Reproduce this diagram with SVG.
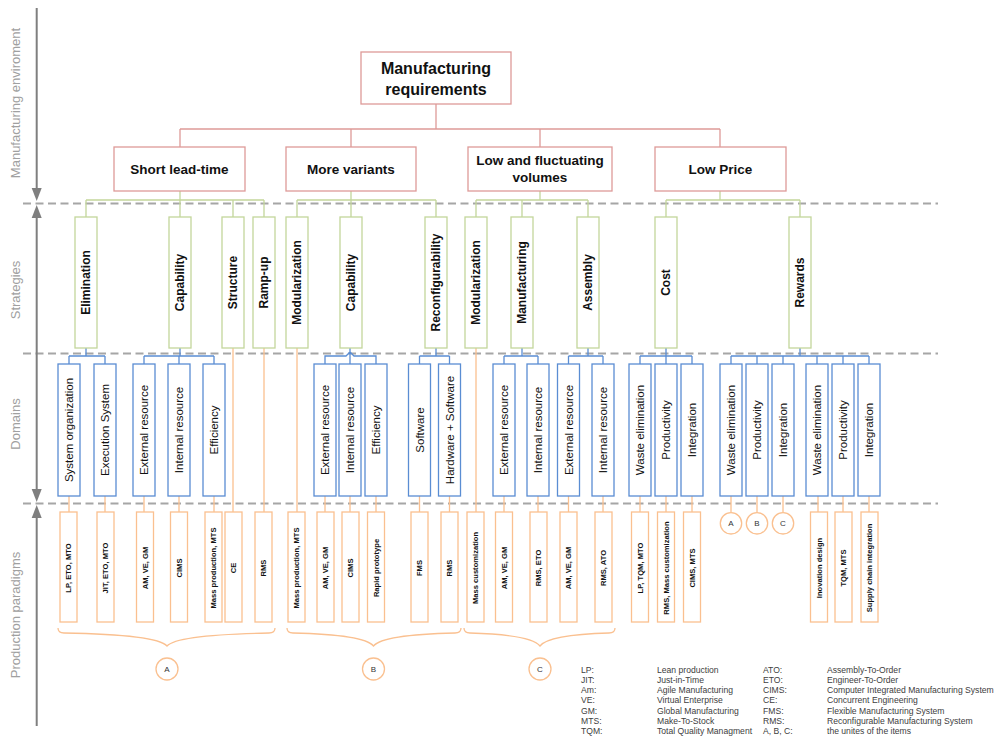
<svg xmlns="http://www.w3.org/2000/svg" width="995" height="741" viewBox="0 0 995 741">
  <style>
    text { font-family: "Liberation Sans", Arial, sans-serif; }
    .req rect { fill: #fff; stroke: #de9a98; stroke-width: 1.3; }
    .req text { font-size: 13.5px; font-weight: bold; fill: #111; text-anchor: middle; }
    .top text { font-size: 16px; }
    .str rect { fill: #fff; stroke: #c3d69b; stroke-width: 1.3; }
    .str text { font-size: 12px; font-weight: bold; fill: #111; text-anchor: middle; dominant-baseline: central; }
    .dom rect { fill: #fff; stroke: #5a8dd3; stroke-width: 1.3; }
    .dom text { font-size: 11.5px; fill: #111; text-anchor: middle; dominant-baseline: central; }
    .par rect { fill: #fff; stroke: #fac090; stroke-width: 1.3; }
    .par text { font-size: 7.6px; font-weight: bold; fill: #111; text-anchor: middle; dominant-baseline: central; }
    .unit circle { fill: #fff; stroke: #fac090; stroke-width: 1.3; }
    .unit text { font-size: 8px; fill: #333; text-anchor: middle; dominant-baseline: central; }
    .c-red { fill: none; stroke: #de9a98; stroke-width: 1.3; }
    .c-green { fill: none; stroke: #c3d69b; stroke-width: 1.3; }
    .c-blue { fill: none; stroke: #5a8dd3; stroke-width: 1.3; }
    .c-orange { fill: none; stroke: #fac090; stroke-width: 1.3; }
    .brace { fill: none; stroke: #fac090; stroke-width: 1.3; }
    .sep { stroke: #a6a6a6; stroke-width: 1.8; stroke-dasharray: 8 4.5; }
    .axis { stroke: #7f7f7f; stroke-width: 2; }
    .axhead { fill: #7f7f7f; }
    .side { font-size: 13px; fill: #a0a0a0; text-anchor: middle; dominant-baseline: central; }
    .legend text { font-size: 8.6px; fill: #404040; }
  </style>

  <!-- layer separators -->
  <g id="separators">
    <line class="sep" x1="23" y1="203.5" x2="938" y2="203.5"/>
    <line class="sep" x1="23" y1="353.5" x2="938" y2="353.5"/>
    <line class="sep" x1="23" y1="503.5" x2="938" y2="503.5"/>
  </g>

  <!-- left axis with layer arrows -->
  <g id="axis">
    <line class="axis" x1="36.7" y1="8" x2="36.7" y2="190"/>
    <polygon class="axhead" points="31.7,188 41.7,188 36.7,201"/>
    <line class="axis" x1="36.7" y1="216" x2="36.7" y2="490"/>
    <polygon class="axhead" points="31.7,218 41.7,218 36.7,205"/>
    <polygon class="axhead" points="31.7,489 41.7,489 36.7,502"/>
    <line class="axis" x1="36.7" y1="516" x2="36.7" y2="726"/>
    <polygon class="axhead" points="31.7,518 41.7,518 36.7,505"/>
  </g>

  <g id="layer-labels">
    <text class="side" transform="translate(15,103) rotate(-90)">Manufacturing enviroment</text>
    <text class="side" transform="translate(15,290) rotate(-90)">Strategies</text>
    <text class="side" transform="translate(15,424) rotate(-90)">Domains</text>
    <text class="side" transform="translate(15,615) rotate(-90)">Production paradigms</text>
  </g>

  <!-- connectors -->
  <g id="connectors">
    <!-- requirements tree -->
    <path class="c-red" d="M436,104 V129 M180,129 H720 M180,129 V147 M351,129 V147 M540,129 V147 M720,129 V147"/>
    <!-- requirements to strategies -->
    <path class="c-green" d="M180,191 V200 M86,200 H264 M86,200 V217 M180,200 V217 M233,200 V217 M264,200 V217"/>
    <path class="c-green" d="M351,191 V200 M297,200 H436 M297,200 V217 M351,200 V217 M436,200 V217"/>
    <path class="c-green" d="M540,191 V200 M476,200 H588 M476,200 V217 M522,200 V217 M588,200 V217"/>
    <path class="c-green" d="M720,191 V200 M666,200 H800 M666,200 V217 M800,200 V217"/>
    <!-- strategies to domains -->
    <path class="c-blue" d="M86,348 V356 M69,356 H105 M69,356 V364 M105,356 V364"/>
    <path class="c-blue" d="M180,348 V356 M144,356 H214 M144,356 V364 M179,356 V364 M214,356 V364"/>
    <path class="c-blue" d="M350,348 V352 L346,356 H325 V364 M350,352 L354,356 H376 V364 M350,352 V364"/>
    <path class="c-blue" d="M436,348 V356 M419.5,356 H449.5 M419.5,356 V364 M449.5,356 V364"/>
    <path class="c-blue" d="M522,348 V356 M504,356 H538 M504,356 V364 M538,356 V364"/>
    <path class="c-blue" d="M588,348 V356 M568.5,356 H603 M568.5,356 V364 M603,356 V364"/>
    <path class="c-blue" d="M666,348 V356 M640,356 H692 M640,356 V364 M666,356 V364 M692,356 V364"/>
    <path class="c-blue" d="M800,348 V356 M731,356 H869 M731,356 V364 M757,356 V364 M783,356 V364 M817,356 V364 M843,356 V364 M869,356 V364"/>
    <!-- strategies without domains, straight to paradigms -->
    <path class="c-orange" d="M233,348 V512 M264,348 V512 M297,348 V512 M476,348 V512"/>
    <!-- domains to paradigms -->
    <path class="c-orange" d="M69,496 V512 M105,496 V512 M144,496 V512 M179,496 V512 M214,496 V512 M325,496 V512 M350,496 V512 M376,496 V512 M419.5,496 V512 M449.5,496 V512 M504,496 V512 M538,496 V512 M568.5,496 V512 M603,496 V512 M640,496 V512 M666,496 V512 M692,496 V512 M731,496 V512.5 M757,496 V512.5 M783,496 V512.5 M818,496 V512 M843,496 V512 M869,496 V512"/>
  </g>

  <!-- requirements -->
  <g id="req-main" class="req top">
    <rect x="361" y="52" width="150" height="52"/>
    <text x="436" y="74">Manufacturing</text>
    <text x="436" y="95">requirements</text>
  </g>
  <g id="req-lead-time" class="req">
    <rect x="114" y="147" width="131" height="44"/>
    <text x="179.5" y="174">Short lead-time</text>
  </g>
  <g id="req-variants" class="req">
    <rect x="286" y="147" width="130" height="44"/>
    <text x="351" y="174">More variants</text>
  </g>
  <g id="req-volumes" class="req">
    <rect x="468" y="147" width="144" height="44"/>
    <text x="540" y="164.5">Low and fluctuating</text>
    <text x="540" y="181.5">volumes</text>
  </g>
  <g id="req-price" class="req">
    <rect x="655" y="147" width="131" height="44"/>
    <text x="720.5" y="174">Low Price</text>
  </g>

  <!-- strategies -->
  <g id="str-elimination" class="str"><rect x="75" y="217" width="22" height="131"/><text transform="translate(86,282.5) rotate(-90)">Elimination</text></g>
  <g id="str-capability-1" class="str"><rect x="169" y="217" width="22" height="131"/><text transform="translate(180,282.5) rotate(-90)">Capability</text></g>
  <g id="str-structure" class="str"><rect x="222" y="217" width="22" height="131"/><text transform="translate(233,282.5) rotate(-90)">Structure</text></g>
  <g id="str-ramp-up" class="str"><rect x="253" y="217" width="22" height="131"/><text transform="translate(264,282.5) rotate(-90)">Ramp-up</text></g>
  <g id="str-modularization-1" class="str"><rect x="286" y="217" width="22" height="131"/><text transform="translate(297,282.5) rotate(-90)">Modularization</text></g>
  <g id="str-capability-2" class="str"><rect x="340" y="217" width="22" height="131"/><text transform="translate(351,282.5) rotate(-90)">Capability</text></g>
  <g id="str-reconfigurability" class="str"><rect x="425" y="217" width="22" height="131"/><text transform="translate(436,282.5) rotate(-90)">Reconfigurability</text></g>
  <g id="str-modularization-2" class="str"><rect x="465" y="217" width="22" height="131"/><text transform="translate(476,282.5) rotate(-90)">Modularization</text></g>
  <g id="str-manufacturing" class="str"><rect x="511" y="217" width="22" height="131"/><text transform="translate(522,282.5) rotate(-90)">Manufacturing</text></g>
  <g id="str-assembly" class="str"><rect x="577" y="217" width="22" height="131"/><text transform="translate(588,282.5) rotate(-90)">Assembly</text></g>
  <g id="str-cost" class="str"><rect x="655" y="217" width="22" height="131"/><text transform="translate(666,282.5) rotate(-90)">Cost</text></g>
  <g id="str-rewards" class="str"><rect x="789" y="217" width="22" height="131"/><text transform="translate(800,282.5) rotate(-90)">Rewards</text></g>

  <!-- domains -->
  <g id="dom-system-organization" class="dom"><rect x="58" y="364" width="22" height="132"/><text transform="translate(69,430) rotate(-90)">System organization</text></g>
  <g id="dom-execution-system" class="dom"><rect x="94" y="364" width="22" height="132"/><text transform="translate(105,430) rotate(-90)">Execution System</text></g>
  <g id="dom-external-1" class="dom"><rect x="133" y="364" width="22" height="132"/><text transform="translate(144,430) rotate(-90)">External resource</text></g>
  <g id="dom-internal-1" class="dom"><rect x="168" y="364" width="22" height="132"/><text transform="translate(179,430) rotate(-90)">Internal resource</text></g>
  <g id="dom-efficiency-1" class="dom"><rect x="203" y="364" width="22" height="132"/><text transform="translate(214,430) rotate(-90)">Efficiency</text></g>
  <g id="dom-external-2" class="dom"><rect x="314" y="364" width="22" height="132"/><text transform="translate(325,430) rotate(-90)">External resource</text></g>
  <g id="dom-internal-2" class="dom"><rect x="339" y="364" width="22" height="132"/><text transform="translate(350,430) rotate(-90)">Internal resource</text></g>
  <g id="dom-efficiency-2" class="dom"><rect x="365" y="364" width="22" height="132"/><text transform="translate(376,430) rotate(-90)">Efficiency</text></g>
  <g id="dom-software" class="dom"><rect x="408.5" y="364" width="22" height="132"/><text transform="translate(419.5,430) rotate(-90)">Software</text></g>
  <g id="dom-hardware-software" class="dom"><rect x="438.5" y="364" width="22" height="132"/><text transform="translate(449.5,430) rotate(-90)">Hardware + Software</text></g>
  <g id="dom-external-3" class="dom"><rect x="493" y="364" width="22" height="132"/><text transform="translate(504,430) rotate(-90)">External resource</text></g>
  <g id="dom-internal-3" class="dom"><rect x="527" y="364" width="22" height="132"/><text transform="translate(538,430) rotate(-90)">Internal resource</text></g>
  <g id="dom-external-4" class="dom"><rect x="557.5" y="364" width="22" height="132"/><text transform="translate(568.5,430) rotate(-90)">External resource</text></g>
  <g id="dom-internal-4" class="dom"><rect x="592" y="364" width="22" height="132"/><text transform="translate(603,430) rotate(-90)">Internal resource</text></g>
  <g id="dom-waste-1" class="dom"><rect x="629" y="364" width="22" height="132"/><text transform="translate(640,430) rotate(-90)">Waste elimination</text></g>
  <g id="dom-productivity-1" class="dom"><rect x="655" y="364" width="22" height="132"/><text transform="translate(666,430) rotate(-90)">Productivity</text></g>
  <g id="dom-integration-1" class="dom"><rect x="681" y="364" width="22" height="132"/><text transform="translate(692,430) rotate(-90)">Integration</text></g>
  <g id="dom-waste-2" class="dom"><rect x="720" y="364" width="22" height="132"/><text transform="translate(731,430) rotate(-90)">Waste elimination</text></g>
  <g id="dom-productivity-2" class="dom"><rect x="746" y="364" width="22" height="132"/><text transform="translate(757,430) rotate(-90)">Productivity</text></g>
  <g id="dom-integration-2" class="dom"><rect x="772" y="364" width="22" height="132"/><text transform="translate(783,430) rotate(-90)">Integration</text></g>
  <g id="dom-waste-3" class="dom"><rect x="806" y="364" width="22" height="132"/><text transform="translate(817,430) rotate(-90)">Waste elimination</text></g>
  <g id="dom-productivity-3" class="dom"><rect x="832" y="364" width="22" height="132"/><text transform="translate(843,430) rotate(-90)">Productivity</text></g>
  <g id="dom-integration-3" class="dom"><rect x="858" y="364" width="22" height="132"/><text transform="translate(869,430) rotate(-90)">Integration</text></g>

  <!-- production paradigms -->
  <g id="par-1" class="par"><rect x="60" y="512" width="17" height="110"/><text transform="translate(68.5,568) rotate(-90)">LP, ETO, MTO</text></g>
  <g id="par-2" class="par"><rect x="97" y="512" width="17" height="110"/><text transform="translate(105.5,568) rotate(-90)">JIT, ETO, MTO</text></g>
  <g id="par-3" class="par"><rect x="136.5" y="512" width="17" height="110"/><text transform="translate(145,568) rotate(-90)">AM, VE, GM</text></g>
  <g id="par-4" class="par"><rect x="170.5" y="512" width="17" height="110"/><text transform="translate(179,568) rotate(-90)">CIMS</text></g>
  <g id="par-5" class="par"><rect x="205" y="512" width="17" height="110"/><text transform="translate(213.5,568) rotate(-90)">Mass production, MTS</text></g>
  <g id="par-6" class="par"><rect x="225" y="512" width="17" height="110"/><text transform="translate(233.5,568) rotate(-90)">CE</text></g>
  <g id="par-7" class="par"><rect x="255" y="512" width="17" height="110"/><text transform="translate(263.5,568) rotate(-90)">RMS</text></g>
  <g id="par-8" class="par"><rect x="288" y="512" width="17" height="110"/><text transform="translate(296.5,568) rotate(-90)">Mass production, MTS</text></g>
  <g id="par-9" class="par"><rect x="317" y="512" width="17" height="110"/><text transform="translate(325.5,568) rotate(-90)">AM, VE, GM</text></g>
  <g id="par-10" class="par"><rect x="342" y="512" width="17" height="110"/><text transform="translate(350.5,568) rotate(-90)">CIMS</text></g>
  <g id="par-11" class="par"><rect x="367.5" y="512" width="17" height="110"/><text transform="translate(376,568) rotate(-90)">Rapid prototype</text></g>
  <g id="par-12" class="par"><rect x="411" y="512" width="17" height="110"/><text transform="translate(419.5,568) rotate(-90)">FMS</text></g>
  <g id="par-13" class="par"><rect x="441" y="512" width="17" height="110"/><text transform="translate(449.5,568) rotate(-90)">RMS</text></g>
  <g id="par-14" class="par"><rect x="467" y="512" width="17" height="110"/><text transform="translate(475.5,568) rotate(-90)">Mass customization</text></g>
  <g id="par-15" class="par"><rect x="495.5" y="512" width="17" height="110"/><text transform="translate(504,568) rotate(-90)">AM, VE, GM</text></g>
  <g id="par-16" class="par"><rect x="530" y="512" width="17" height="110"/><text transform="translate(538.5,568) rotate(-90)">RMS, ETO</text></g>
  <g id="par-17" class="par"><rect x="560" y="512" width="17" height="110"/><text transform="translate(568.5,568) rotate(-90)">AM, VE, GM</text></g>
  <g id="par-18" class="par"><rect x="595" y="512" width="17" height="110"/><text transform="translate(603.5,568) rotate(-90)">RMS, ATO</text></g>
  <g id="par-19" class="par"><rect x="631.5" y="512" width="17" height="110"/><text transform="translate(640,568) rotate(-90)">LP, TQM, MTO</text></g>
  <g id="par-20" class="par"><rect x="657.5" y="512" width="17" height="110"/><text transform="translate(666,568) rotate(-90)">RMS, Mass customization</text></g>
  <g id="par-21" class="par"><rect x="683.5" y="512" width="17" height="110"/><text transform="translate(692,568) rotate(-90)">CIMS, MTS</text></g>
  <g id="par-22" class="par"><rect x="810.5" y="512" width="17" height="110"/><text transform="translate(819,568) rotate(-90)">Inovation design</text></g>
  <g id="par-23" class="par"><rect x="835" y="512" width="17" height="110"/><text transform="translate(843.5,568) rotate(-90)">TQM, MTS</text></g>
  <g id="par-24" class="par"><rect x="861" y="512" width="17" height="110"/><text transform="translate(869.5,568) rotate(-90)">Supply chain integration</text></g>

  <!-- unit references under the rewards domains -->
  <g id="ref-a" class="unit"><circle cx="731" cy="523.3" r="10.7"/><text x="731" y="523.3">A</text></g>
  <g id="ref-b" class="unit"><circle cx="757" cy="523.3" r="10.7"/><text x="757" y="523.3">B</text></g>
  <g id="ref-c" class="unit"><circle cx="783" cy="523.3" r="10.7"/><text x="783" y="523.3">C</text></g>

  <!-- grouping braces -->
  <g id="braces">
    <path class="brace" d="M58,628 Q58,633 64,633 C120,634 160,638 167,646 C174,638 214,634 269,633 Q275,633 275,628"/>
    <path class="brace" d="M287,628 Q287,633 293,633 C335,634 367,638 373.5,646 C380,638 412,634 455,633 Q461,633 461,628"/>
    <path class="brace" d="M464,628 Q464,633 470,633 C505,634 534,638 540,646 C546,638 575,634 609,633 Q615,633 615,628"/>
  </g>

  <g id="unit-a" class="unit"><circle cx="167" cy="669" r="11"/><text x="167" y="669">A</text></g>
  <g id="unit-b" class="unit"><circle cx="373.5" cy="669" r="11"/><text x="373.5" y="669">B</text></g>
  <g id="unit-c" class="unit"><circle cx="540" cy="669" r="11"/><text x="540" y="669">C</text></g>

  <!-- abbreviations -->
  <g id="legend" class="legend">
    <text x="581" y="672.5">LP:</text><text x="657" y="672.5">Lean production</text>
    <text x="763" y="672.5">ATO:</text><text x="827" y="672.5">Assembly-To-Order</text>
    <text x="581" y="682.8">JIT:</text><text x="657" y="682.8">Just-in-Time</text>
    <text x="763" y="682.8">ETO:</text><text x="827" y="682.8">Engineer-To-Order</text>
    <text x="581" y="693.1">Am:</text><text x="657" y="693.1">Agile Manufacturing</text>
    <text x="763" y="693.1">CIMS:</text><text x="827" y="693.1">Computer Integrated Manufacturing System</text>
    <text x="581" y="703.4">VE:</text><text x="657" y="703.4">Virtual Enterprise</text>
    <text x="763" y="703.4">CE:</text><text x="827" y="703.4">Concurrent Engineering</text>
    <text x="581" y="713.7">GM:</text><text x="657" y="713.7">Global Manufacturing</text>
    <text x="763" y="713.7">FMS:</text><text x="827" y="713.7">Flexible Manufacturing System</text>
    <text x="581" y="724">MTS:</text><text x="657" y="724">Make-To-Stock</text>
    <text x="763" y="724">RMS:</text><text x="827" y="724">Reconfigurable Manufacturing System</text>
    <text x="581" y="734.3">TQM:</text><text x="657" y="734.3">Total Quality Managment</text>
    <text x="763" y="734.3">A, B, C:</text><text x="827" y="734.3">the unites of the items</text>
  </g>
</svg>
